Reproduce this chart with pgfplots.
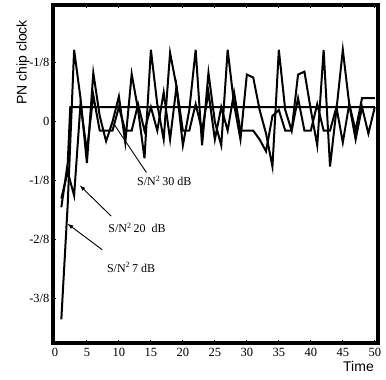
\documentclass[border=0pt]{standalone}
\usepackage{pgfplots}
\pgfplotsset{compat=1.18}
\usepackage{fontspec}
\setmainfont{Liberation Serif}
\newfontfamily\sansf{Liberation Sans}
\begin{document}
\begin{tikzpicture}
\begin{axis}[
  scale only axis, width=325pt, height=338pt,
  xmin=-0.3, xmax=50.5, ymin=-3.75, ymax=1.98,
  xtick={0,5,...,50},
  ytick={-3,-2,-1,0,1},
  yticklabels={-3/8,-2/8,-1/8,0,-1/8},
  /pgf/number format/assume math mode=true,
  tick label style={font=\fontsize{12.5}{13}\selectfont},
  xticklabel style={yshift=-2pt},
  tick align=inside, major tick length=3pt,
  tick style={line width=1pt, black},
  axis line style={line width=3.5pt},
  xtick pos=both, ytick pos=left,
  xlabel={\sansf Time}, ylabel={\sansf PN chip clock},
  label style={font=\fontsize{14}{15}\selectfont},
  xlabel style={at={(rel axis cs:0.94,0)}, anchor=north, yshift=-15pt},
  ylabel style={at={(rel axis cs:0,0.83)}, anchor=south, yshift=20pt},
  clip=false,
]
% S/N 30 dB
\addplot[black, line width=2pt] coordinates {(1,-1.45)(2,-0.7)(2.4,0.25)(50,0.25)};
% S/N 20 dB
\addplot[black, line width=2pt] coordinates {
(1,-1.3)(2,-0.85)(3,-1.25)(4,0.3)(5,-0.5)(6,0.45)(7,-0.15)(8,-0.15)(9,-0.15)(10,0.25)
(11,-0.15)(12,-0.15)(13,0.3)(14,-0.15)(15,0.25)(16,-0.15)(17,0.5)(18,-0.3)(19,0.6)(20,-0.15)
(21,-0.15)(22,0.3)(23,-0.15)(24,0.5)(25,-0.3)(26,0.25)(27,-0.15)(28,0.5)(29,-0.15)(30,-0.15)
(31,-0.15)(32,-0.3)(33,-0.5)(34,0.1)(35,0.2)(36,-0.15)(37,-0.15)(38,0.4)(39,-0.15)(40,-0.15)
(41,0.3)(42,-0.15)(43,-0.15)(44,0.25)(45,-0.35)(46,0.3)(47,-0.15)(48,0.4)(49,0.4)(50,0.4)};
% S/N 7 dB
\addplot[black, line width=2pt] coordinates {
(1,-3.35)(2,-1.4)(3,1.22)(4,0.4)(5,-0.7)(6,0.83)(7,0.1)(8,-0.33)(9,0.0)(10,0.43)
(11,-0.35)(12,0.81)(13,0.2)(14,-0.62)(15,1.22)(16,0.3)(17,-0.3)(18,1.17)(19,0.6)(20,-0.4)
(21,0.2)(22,1.22)(23,-0.4)(24,0.83)(25,0.0)(26,-0.4)(27,1.22)(28,0.3)(29,-0.3)(30,0.8)
(31,0.75)(32,0.2)(33,-0.2)(34,-0.76)(35,1.22)(36,0.2)(37,-0.15)(38,0.8)(39,0.85)(40,0.2)
(41,-0.4)(42,1.22)(43,-0.76)(44,0.2)(45,1.22)(46,0.3)(47,-0.3)(48,0.25)(49,-0.2)(50,0.25)};
% annotations
\draw[line width=0.9pt] (axis cs:14.3,-0.86) -- (axis cs:9.3,-0.05);
\node[anchor=west, font=\fontsize{12}{13}\selectfont] at (axis cs:12.3,-1.0) {S/N\textsuperscript{2}\,30 dB};
\draw[line width=0.9pt, -latex] (axis cs:8.8,-1.6) -- (axis cs:3.9,-1.08);
\node[anchor=west, font=\fontsize{12}{13}\selectfont] at (axis cs:7.8,-1.8) {S/N\textsuperscript{2}\,20~~dB};
\draw[line width=0.9pt, -latex] (axis cs:7.4,-2.17) -- (axis cs:2.0,-1.73);
\node[anchor=west, font=\fontsize{12}{13}\selectfont] at (axis cs:7.6,-2.47) {S/N\textsuperscript{2}\,7~dB};
\end{axis}
\path (current axis.south west) ++(-53pt,-37pt) coordinate (bbA);
\path (current axis.north east) ++(8pt,5pt) coordinate (bbB);
\path (bbA) rectangle (bbB);
\end{tikzpicture}
\end{document}
